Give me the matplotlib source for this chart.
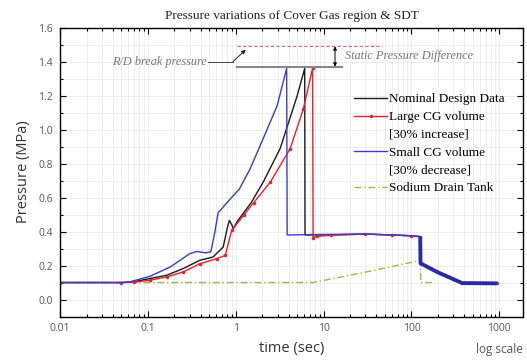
import numpy as np
import matplotlib
matplotlib.use('Agg')
import matplotlib.pyplot as plt
from matplotlib.ticker import FixedLocator, LogLocator, MultipleLocator, NullFormatter
from matplotlib.lines import Line2D

# Nominal design data (black)
t_nom = [0.01, 0.05, 0.07, 0.106, 0.164, 0.254, 0.39, 0.55, 0.72, 0.80, 0.847, 0.90, 0.94,
         1.04, 1.5, 2.05, 3.2, 5.0, 6.1, 6.15, 10, 30, 60, 100, 126, 127, 200, 300, 378, 950]
p_nom = [0.1, 0.1, 0.105, 0.124, 0.143, 0.183, 0.231, 0.25, 0.309, 0.42, 0.466, 0.44, 0.417,
         0.46, 0.57, 0.69, 0.888, 1.198, 1.36, 0.38, 0.38, 0.385, 0.38, 0.375, 0.37, 0.213, 0.16, 0.12, 0.097, 0.095]

# Large CG volume, 30% increase (red)
t_large = [0.01, 0.05, 0.07, 0.106, 0.164, 0.254, 0.39, 0.61, 0.76, 0.9, 1.23, 1.6, 2.47, 4.17,
           5.87, 7.5, 7.6, 8.5, 12, 30, 60, 100, 126, 127, 200, 300, 378, 950]
p_large = [0.1, 0.1, 0.102, 0.114, 0.133, 0.163, 0.21, 0.241, 0.26, 0.407, 0.495, 0.57, 0.69, 0.888,
           1.12, 1.36, 0.365, 0.372, 0.378, 0.385, 0.38, 0.375, 0.37, 0.213, 0.16, 0.12, 0.097, 0.095]

# Small CG volume, 30% decrease (blue)
t_small = [0.01, 0.05, 0.06, 0.106, 0.18, 0.3, 0.36, 0.45, 0.52, 0.58, 0.63, 0.86, 1.1, 1.46,
           2.05, 2.96, 3.8, 3.85, 10, 30, 60, 100, 126, 127, 200, 300, 378, 950]
p_small = [0.1, 0.1, 0.102, 0.137, 0.192, 0.27, 0.283, 0.275, 0.28, 0.4, 0.51, 0.59, 0.65, 0.77,
           0.946, 1.14, 1.36, 0.38, 0.383, 0.385, 0.38, 0.375, 0.37, 0.213, 0.16, 0.12, 0.097, 0.095]

# Sodium drain tank (olive dash-dot)
t_sdt = [0.01, 7.6, 31, 126, 128, 180]
p_sdt = [0.1, 0.1, 0.163, 0.23, 0.1, 0.1]

# annotation levels
p_break = 1.49
p_static = 1.37

x_ticks = [0.01, 0.1, 1, 10, 100, 1000]
x_labels = ['0.01', '0.1', '1', '10', '100', '1000']
y_ticks = [0.0, 0.2, 0.4, 0.6, 0.8, 1.0, 1.2, 1.4, 1.6]

serif = 'Liberation Serif'
sans = 'Open Sans'


def main():
    fig = plt.figure(figsize=(5.27, 3.63), dpi=100)
    ax = fig.add_axes([0.114, 0.128, 0.879, 0.796])

    ax.plot(t_sdt, p_sdt, color='#b0b048', lw=1.0, ls=(0, (5, 2, 1, 2)))
    ax.plot(t_nom, p_nom, color='#1a1a1a', lw=1.0)
    ax.plot(t_large, p_large, color='#e8202a', lw=1.0, marker='o', ms=1.5)
    ax.plot(t_small, p_small, color='#3b3bcc', lw=1.0)
    ax.plot(t_small[-6:], p_small[-6:], color='#2a2aa8', lw=2.8, solid_capstyle='butt')

    ax.set_xscale('log')
    ax.set_xlim(0.01, 1880)
    ax.set_ylim(-0.1, 1.6)

    ax.xaxis.set_major_locator(FixedLocator(x_ticks))
    ax.set_xticklabels(x_labels)
    ax.xaxis.set_minor_locator(LogLocator(base=10, subs=np.arange(2, 10)))
    ax.xaxis.set_minor_formatter(NullFormatter())
    ax.set_yticks(y_ticks)
    ax.set_yticklabels(['%.1f' % v for v in y_ticks])
    ax.yaxis.set_minor_locator(MultipleLocator(0.1))

    ax.tick_params(which='both', direction='in', top=True, right=True, width=0.8,
                   labelsize=7.5, labelcolor='#555555')
    ax.tick_params(which='major', length=4, pad=5)
    ax.tick_params(which='minor', length=2)
    for lab in ax.get_xticklabels() + ax.get_yticklabels():
        lab.set_family(sans)
    for s in ax.spines.values():
        s.set_linewidth(1.0)

    ax.grid(which='both', color='#e8e8e8', lw=0.5)
    ax.set_axisbelow(True)

    # pressure levels at top
    ax.plot([1.04, 46.5], [p_break, p_break], color='#e06a80', lw=0.8, ls=(0, (3, 2)))
    ax.plot([1.04, 16.3], [p_static, p_static], color='#888888', lw=1.5)
    ax.annotate('', xy=(13.5, p_break), xytext=(13.5, p_static),
                arrowprops=dict(arrowstyle='<|-|>', color='black', lw=0.7,
                                mutation_scale=5, shrinkA=0, shrinkB=0))
    ax.text(17.6, 1.43, 'Static Pressure Difference', family=serif, style='italic',
            fontsize=8.8, color='#777777', va='center', ha='left')
    ax.text(0.47, 1.40, 'R/D break pressure', family=serif, style='italic',
            fontsize=8.8, color='#777777', va='center', ha='right')
    ax.plot([0.485, 0.93], [1.40, 1.40], color='#444444', lw=0.7)
    ax.annotate('', xy=(1.3, 1.47), xytext=(0.93, 1.40),
                arrowprops=dict(arrowstyle='-|>', color='#222222', lw=0.7,
                                mutation_scale=6, shrinkA=0, shrinkB=0))

    handles = [Line2D([], [], color='#1a1a1a', lw=1.0),
               Line2D([], [], color='#e8202a', lw=1.0, marker='o', ms=1.5),
               Line2D([], [], color='none'),
               Line2D([], [], color='#3b3bcc', lw=1.0),
               Line2D([], [], color='none'),
               Line2D([], [], color='#b0b048', lw=1.0, ls=(0, (5, 2, 1, 2)))]
    labels = ['Nominal Design Data', 'Large CG volume', '[30% increase]',
              'Small CG volume', '[30% decrease]', 'Sodium Drain Tank']
    ax.legend(handles, labels, loc='upper left', bbox_to_anchor=(0.615, 0.805),
              frameon=False, prop={'family': serif, 'size': 9.5},
              handlelength=2.5, handletextpad=0.15, labelspacing=0.42, borderpad=0.2)

    ax.set_title('Pressure variations of Cover Gas region & SDT', family=serif,
                 fontsize=9.5, pad=6, color='#222222')
    ax.set_xlabel('time (sec)', family=sans, fontsize=10.5, labelpad=5, color='#333333')
    ax.set_ylabel('Pressure (MPa)', family=sans, fontsize=10.5, labelpad=5, color='#333333')
    fig.text(0.992, 0.038, 'log scale', family=sans, fontsize=8.5, color='#555555',
             ha='right', va='center')

    fig.savefig('out.png', dpi=100)


if __name__ == "__main__":
    main()
